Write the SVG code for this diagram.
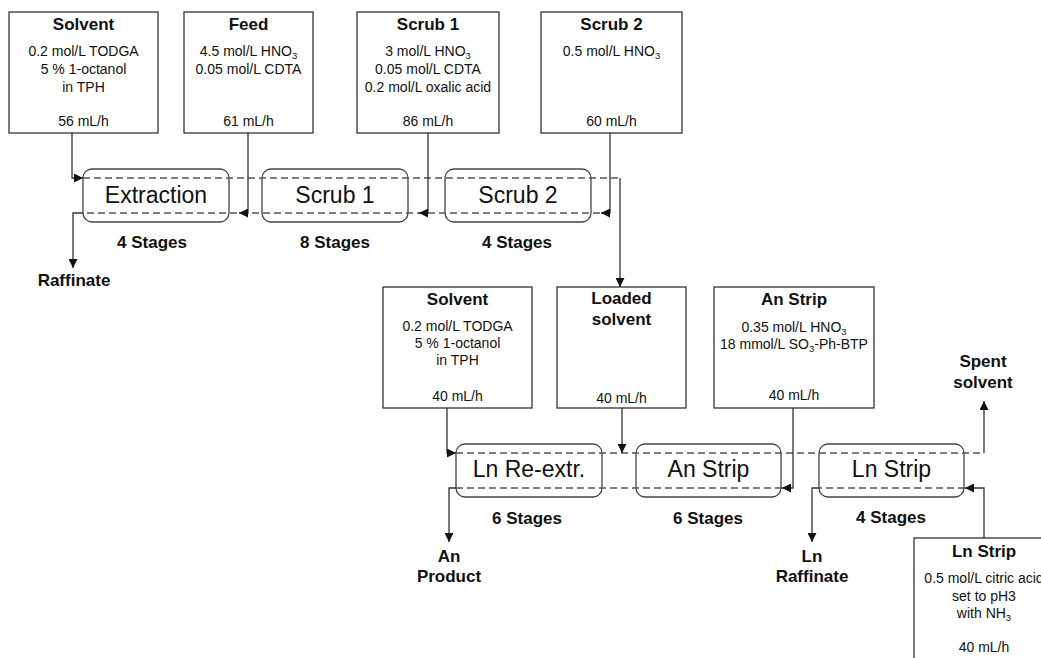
<svg xmlns="http://www.w3.org/2000/svg" width="1041" height="658" viewBox="0 0 1041 658">
  <style>
    text { font-family: "Liberation Sans", Arial, sans-serif; fill: #111; text-anchor: middle; }
    .title { font-size: 17px; font-weight: bold; }
    .body { font-size: 14px; }
    .sub { font-size: 9.5px; }
    .stage { font-size: 17px; font-weight: bold; }
    .proc { font-size: 23px; }
    .out { font-size: 17px; font-weight: bold; }
    .box { fill: #fff; stroke: #333; stroke-width: 1.3; }
    .unit { fill: #fff; stroke: #444; stroke-width: 1.3; }
    .flow { fill: none; stroke: #333; stroke-width: 1.3; }
    .phase { fill: none; stroke: #555; stroke-width: 1.5; stroke-dasharray: 7 4; }
  </style>
  <defs>
    <marker id="arrow" markerUnits="userSpaceOnUse" markerWidth="10" markerHeight="9" refX="9" refY="4.5" orient="auto">
      <path d="M0,0 L9,4.5 L0,9 Z" fill="#111"/>
    </marker>
  </defs>

  <rect width="1041" height="658" fill="#fff"/>

  <!-- Feed solutions, first cycle -->
  <g id="solvent1">
    <rect class="box" x="9" y="12" width="149" height="121"/>
    <text class="title" x="83.5" y="30">Solvent</text>
    <text class="body" x="83.5" y="56">0.2 mol/L TODGA</text>
    <text class="body" x="83.5" y="74">5 % 1-octanol</text>
    <text class="body" x="83.5" y="92">in TPH</text>
    <text class="body" x="83.5" y="126">56 mL/h</text>
  </g>
  <g id="feed">
    <rect class="box" x="184" y="12" width="129" height="121"/>
    <text class="title" x="248.5" y="30">Feed</text>
    <text class="body" x="248.5" y="56">4.5 mol/L HNO<tspan class="sub" dy="3">3</tspan></text>
    <text class="body" x="248.5" y="74">0.05 mol/L CDTA</text>
    <text class="body" x="248.5" y="126">61 mL/h</text>
  </g>
  <g id="scrub1-feed">
    <rect class="box" x="357" y="12" width="142" height="121"/>
    <text class="title" x="428" y="30">Scrub 1</text>
    <text class="body" x="428" y="56">3 mol/L HNO<tspan class="sub" dy="3">3</tspan></text>
    <text class="body" x="428" y="74">0.05 mol/L CDTA</text>
    <text class="body" x="428" y="92">0.2 mol/L oxalic acid</text>
    <text class="body" x="428" y="126">86 mL/h</text>
  </g>
  <g id="scrub2-feed">
    <rect class="box" x="541" y="12" width="141" height="121"/>
    <text class="title" x="611.5" y="30">Scrub 2</text>
    <text class="body" x="611.5" y="56">0.5 mol/L HNO<tspan class="sub" dy="3">3</tspan></text>
    <text class="body" x="611.5" y="126">60 mL/h</text>
  </g>

  <!-- Contactor sections, first cycle -->
  <g id="extraction">
    <rect class="unit" x="83" y="169" width="146" height="53" rx="9"/>
    <text class="proc" x="156" y="203">Extraction</text>
    <text class="stage" x="152" y="248">4 Stages</text>
  </g>
  <g id="scrub1">
    <rect class="unit" x="262" y="169" width="146" height="53" rx="9"/>
    <text class="proc" x="335" y="203">Scrub 1</text>
    <text class="stage" x="335" y="248">8 Stages</text>
  </g>
  <g id="scrub2">
    <rect class="unit" x="445" y="169" width="146" height="53" rx="9"/>
    <text class="proc" x="518" y="203">Scrub 2</text>
    <text class="stage" x="517" y="248">4 Stages</text>
  </g>
  <g id="raffinate">
    <text class="out" x="74" y="286">Raffinate</text>
  </g>

  <!-- Feed solutions, second cycle -->
  <g id="solvent2">
    <rect class="box" x="383" y="287" width="149" height="121"/>
    <text class="title" x="457.5" y="305">Solvent</text>
    <text class="body" x="457.5" y="331">0.2 mol/L TODGA</text>
    <text class="body" x="457.5" y="348">5 % 1-octanol</text>
    <text class="body" x="457.5" y="365">in TPH</text>
    <text class="body" x="457.5" y="401">40 mL/h</text>
  </g>
  <g id="loaded-solvent">
    <rect class="box" x="557" y="287" width="129" height="121"/>
    <text class="title" x="621.5" y="304">Loaded</text>
    <text class="title" x="621.5" y="325">solvent</text>
    <text class="body" x="621.5" y="403">40 mL/h</text>
  </g>
  <g id="an-strip-feed">
    <rect class="box" x="714" y="287" width="160" height="121"/>
    <text class="title" x="794" y="305">An Strip</text>
    <text class="body" x="794" y="332">0.35 mol/L HNO<tspan class="sub" dy="3">3</tspan></text>
    <text class="body" x="794" y="349">18 mmol/L SO<tspan class="sub" dy="3">3</tspan><tspan dy="-3">-Ph-BTP</tspan></text>
    <text class="body" x="794" y="400">40 mL/h</text>
  </g>
  <g id="spent-solvent">
    <text class="out" x="983" y="367">Spent</text>
    <text class="out" x="983" y="388">solvent</text>
  </g>

  <!-- Contactor sections, second cycle -->
  <g id="ln-reextr">
    <rect class="unit" x="456" y="444" width="146" height="53" rx="9"/>
    <text class="proc" x="529" y="477">Ln Re-extr.</text>
    <text class="stage" x="527" y="524">6 Stages</text>
  </g>
  <g id="an-strip">
    <rect class="unit" x="636" y="444" width="145" height="53" rx="9"/>
    <text class="proc" x="708.5" y="477">An Strip</text>
    <text class="stage" x="708" y="524">6 Stages</text>
  </g>
  <g id="ln-strip">
    <rect class="unit" x="819" y="444" width="145" height="53" rx="9"/>
    <text class="proc" x="891.5" y="477">Ln Strip</text>
    <text class="stage" x="891" y="523">4 Stages</text>
  </g>
  <g id="an-product">
    <text class="out" x="449" y="562">An</text>
    <text class="out" x="449" y="582">Product</text>
  </g>
  <g id="ln-raffinate">
    <text class="out" x="812" y="562">Ln</text>
    <text class="out" x="812" y="582">Raffinate</text>
  </g>
  <g id="ln-strip-feed">
    <rect class="box" x="914" y="538" width="140" height="130"/>
    <text class="title" x="984" y="557">Ln Strip</text>
    <text class="body" x="984" y="583">0.5 mol/L citric acid</text>
    <text class="body" x="984" y="601">set to pH3</text>
    <text class="body" x="984" y="618">with NH<tspan class="sub" dy="3">3</tspan></text>
    <text class="body" x="984" y="652">40 mL/h</text>
  </g>

  <!-- Connectors -->
  <g id="connectors">
    <!-- organic (top) and aqueous (bottom) phase lines through the contactors -->
    <path class="phase" d="M83,178 H620"/>
    <path class="phase" d="M600,213 H83"/>
    <path class="phase" d="M456,453 H984"/>
    <path class="phase" d="M782,488 H456"/>
    <path class="phase" d="M965,488 H819"/>

    <!-- first cycle streams -->
    <path class="flow" d="M72,133 V178 H83" marker-end="url(#arrow)"/>
    <path class="flow" d="M248,133 V213 H239" marker-end="url(#arrow)"/>
    <path class="flow" d="M428,133 V213 H419" marker-end="url(#arrow)"/>
    <path class="flow" d="M610,133 V213 H601" marker-end="url(#arrow)"/>
    <path class="flow" d="M83,213 H73 V268" marker-end="url(#arrow)"/>
    <path class="flow" d="M620,178 V287" marker-end="url(#arrow)"/>

    <!-- second cycle streams -->
    <path class="flow" d="M447,408 V453 H456" marker-end="url(#arrow)"/>
    <path class="flow" d="M622,408 V453" marker-end="url(#arrow)"/>
    <path class="flow" d="M793,408 V488 H782" marker-end="url(#arrow)"/>
    <path class="flow" d="M984,538 V488 H965" marker-end="url(#arrow)"/>
    <path class="flow" d="M984,453 V401" marker-end="url(#arrow)"/>
    <path class="flow" d="M456,488 H449 V542" marker-end="url(#arrow)"/>
    <path class="flow" d="M819,488 H812 V542" marker-end="url(#arrow)"/>
  </g>
</svg>
